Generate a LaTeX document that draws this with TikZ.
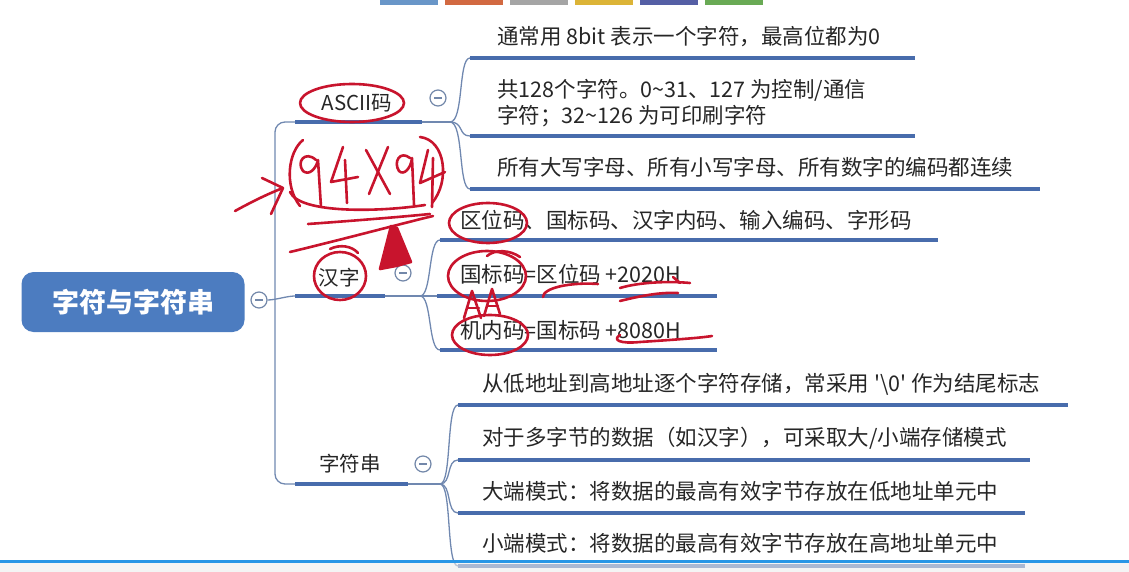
\documentclass[tikz,border=0pt]{standalone}
\usepackage{fontspec}
\setmainfont{Noto Sans CJK SC}
\usetikzlibrary{positioning}
\definecolor{barblue}{RGB}{72,108,172}
\definecolor{linkblue}{RGB}{112,136,176}
\definecolor{rootblue}{RGB}{76,124,192}
\definecolor{inkred}{RGB}{200,20,45}
\definecolor{tabA}{RGB}{105,150,200}
\definecolor{tabB}{RGB}{210,105,65}
\definecolor{tabC}{RGB}{165,165,165}
\definecolor{tabD}{RGB}{220,180,55}
\definecolor{tabE}{RGB}{85,95,165}
\definecolor{tabF}{RGB}{105,170,85}
\tikzset{x=1pt, y=-1pt,
  root/.style={rounded corners=12pt, fill=rootblue, text=white, minimum width=223pt, minimum height=60pt, inner sep=0pt, font=\fontsize{27}{30}\selectfont\bfseries},
  topic/.style={inner sep=0pt, font=\fontsize{20.5}{24}\selectfont, text=black!85},
  leaf/.style={anchor=west, inner sep=0pt, align=left, font=\fontsize{21.5}{26}\selectfont, text=black!85},
  bar/.style={line width=4.5pt, draw=barblue},
  link/.style={line width=1.3pt, draw=linkblue},
  fold/.style={circle, draw=linkblue!85!gray, line width=1.2pt, fill=white, minimum size=16pt, inner sep=0pt,
    path picture={\draw[linkblue!85!gray, line width=1.2pt] ([xshift=-4pt]path picture bounding box.center) -- ([xshift=4pt]path picture bounding box.center);}},
  ink/.style={draw=inkred, line width=2.6pt, line cap=round, line join=round},
}
\begin{document}
\begin{tikzpicture}
\useasboundingbox (0,0) rectangle (1129,572);
% colour tabs at the top
\foreach \c [count=\i] in {tabA,tabB,tabC,tabD,tabE,tabF}
  \fill[\c] ({380+65*(\i-1)},0) rectangle +(58,5);

% root and branches
\node[root] (root) at (133,302) {字符与字符串};
\node[fold] (f0) at (259,300) {};
\coordinate (trunk) at (275,300);
\coordinate (aL) at (295,122); \coordinate (aR) at (422,122); \coordinate (aJ) at (450,122);
\coordinate (hL) at (295,296); \coordinate (hR) at (385,296); \coordinate (hJ) at (420,296);
\coordinate (sL) at (295,484); \coordinate (sR) at (408,484); \coordinate (sJ) at (440,484);
\draw[link, rounded corners=10pt] (aL) -- (aL -| trunk) -- (sL -| trunk) -- (sL);
\draw[link] (f0.east) .. controls +(8,0) and +(-8,0) .. (hL);
\draw[link] (aR) -- (aJ);
\draw[link] (hR) -- (hJ);
\draw[link] (sR) -- (sJ);

\node[topic] (ascii) at (357,103) {ASCII码};
\node[topic] (hanzi) at (339,278) {汉字};
\node[topic] (str) at (350,464) {字符串};
\node[fold] (fa) at (438,98) {};
\node[fold] (fh) at (403,273) {};
\node[fold] (fs) at (423,464) {};

% leaves
\node[leaf] (a1) at (497,37) {通常用 8bit 表示一个字符，最高位都为0};
\node[leaf] (a2) at (497,103) {共128个字符。0\textasciitilde31、127 为控制/通信\\字符；32\textasciitilde126 为可印刷字符};
\node[leaf] (a3) at (497,167) {所有大写字母、所有小写字母、所有数字的编码都连续};
\node[leaf] (h1) at (460,220) {区位码、国标码、汉字内码、输入编码、字形码};
\node[leaf] (h2) at (460,274) {国标码=区位码 +2020H};
\node[leaf] (h3) at (460,330) {机内码=国标码 +8080H};
\node[leaf] (s1) at (482,384) {从低地址到高地址逐个字符存储，常采用 \textquotesingle\textbackslash 0\textquotesingle{} 作为结尾标志};
\node[leaf] (s2) at (482,438) {对于多字节的数据（如汉字），可采取大/小端存储模式};
\node[leaf] (s3) at (482,491) {大端模式：将数据的最高有效字节存放在低地址单元中};
\node[leaf] (s4) at (482,543) {小端模式：将数据的最高有效字节存放在高地址单元中};

% leaf underlines and links
\foreach \n/\xa/\xb/\y in {a1/470/915/58, a2/470/915/136, a3/470/1040/189,
    h1/440/938/240, h2/437/717/296, h3/440/717/350,
    s1/458/1068/405, s2/458/1030/460, s3/458/1025/513, s4/458/1025/566} {
  \coordinate (\n-L) at (\xa,\y);
  \coordinate (\n-R) at (\xb,\y);
}
\foreach \n in {a1,a2,a3}
  \draw[link] (aJ) .. controls +(14,0) and +(-12,0) .. (\n-L);
\foreach \n in {h1,h2,h3}
  \draw[link] (hJ) .. controls +(12,0) and +(-12,0) .. (\n-L);
\foreach \n in {s1,s2,s3,s4}
  \draw[link] (sJ) .. controls +(12,0) and +(-12,0) .. (\n-L);
\draw[bar] (aL) -- (aR);
\draw[bar] (hL) -- (hR);
\draw[bar] (sL) -- (sR);
\foreach \n in {a1,a2,a3,h1,h2,h3,s1,s2,s3,s4}
  \draw[bar] (\n-L) -- (\n-R);

% handwritten marks
\draw[ink] (352,103) ellipse [x radius=52, y radius=19];
\draw[ink] (303,140) .. controls (288,152) and (284,186) .. (300,206);
\draw[ink] (316,160) .. controls (305,150) and (296,162) .. (303,171) .. controls (309,176) and (316,169) .. (318,160) -- (321,207);
\draw[ink] (343,147) -- (331,182) -- (358,177);
\draw[ink] (345,160) -- (347,203);
\draw[ink] (366,150) -- (390,194);
\draw[ink] (388,147) -- (369,194);
\draw[ink] (410,158) .. controls (400,150) and (393,162) .. (399,171) .. controls (404,176) and (411,168) .. (412,158) -- (414,205);
\draw[ink] (428,150) -- (420,183) -- (445,172);
\draw[ink] (433,158) -- (432,207);
\draw[ink] (420,137) .. controls (446,140) and (450,182) .. (432,203);
\draw[ink] (290,192) .. controls (300,214) and (380,212) .. (425,205);
\draw[ink] (308,224) .. controls (350,221) and (400,217) .. (430,214);
\draw[ink] (290,252) .. controls (340,240) and (400,224) .. (433,216);
\draw[ink] (235,211) .. controls (255,200) and (270,193) .. (283,188);
\draw[ink] (262,178) -- (283,188) -- (271,214);
\draw[ink] (340,276) ellipse [x radius=26, y radius=24];
\draw[ink] (330,249) .. controls (340,244) and (352,246) .. (358,253);
\filldraw[ink, fill=inkred] (380,269) -- (391,226) -- (397,228) -- (411,262) -- (396,266) -- cycle;
\draw[ink] (488,223) ellipse [x radius=39, y radius=20];
\draw[ink] (487,276) ellipse [x radius=39, y radius=25];
\draw[ink] (487,256) .. controls (495,249) and (510,250) .. (520,257);
\draw[ink] (464,318) -- (472,291) -- (481,318);
\draw[ink] (467,308) -- (479,308);
\draw[ink] (484,316) -- (492,289) -- (500,314);
\draw[ink] (487,306) -- (498,306);
\draw[ink] (490,335) ellipse [x radius=38, y radius=20];
\draw[ink] (543,297) .. controls (543,288) and (570,282) .. (598,284);
\draw[ink] (620,288) .. controls (640,282) and (670,281) .. (690,283);
\draw[ink] (673,277) -- (680,283);
\draw[ink] (620,301) .. controls (640,296) and (660,292) .. (678,293);
\draw[ink] (620,335) .. controls (612,340) and (620,344) .. (640,342) .. controls (670,340) and (700,338) .. (712,336);

% bottom edge
\fill[gray!15, opacity=0.6] (0,563) rectangle (1129,572);
\draw[line width=2.5pt, draw={rgb,255:red,40;green,150;blue,230}] (0,561.5) -- (1129,561.5);
\end{tikzpicture}
\end{document}
